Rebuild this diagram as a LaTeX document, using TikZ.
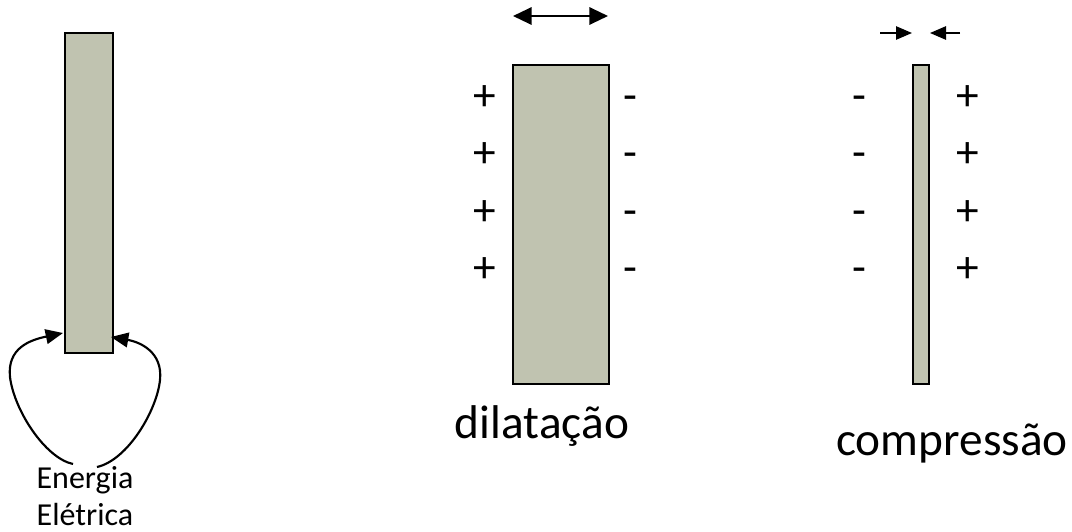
\documentclass[tikz,border=0pt]{standalone}
\usepackage{fontspec}
\setmainfont{Carlito}
\usetikzlibrary{arrows.meta}
\definecolor{barfill}{RGB}{192,195,176}

\begin{document}
\begin{tikzpicture} [x=0.75pt, y=-0.75pt, bar/.style={fill=barfill, draw, line width=1.5pt},
  sign/.style={font=\fontsize{34}{34}\selectfont, text height=0.65em, text depth=0pt},
  seta/.style={line width=1.6pt, -{Triangle[length=13pt, width=11pt]}}]
\useasboundingbox (0,0) rectangle (1072,532);
% the three bars
\filldraw[bar] (65,33) rectangle (113,353);
\filldraw[bar] (513,65) rectangle (609,384);
\filldraw[bar] (913,65) rectangle (929,384);
\coordinate (esq) at (63,333); \coordinate (dir) at (111,337);
% energia eletrica
\node[font=\fontsize{24}{28}\selectfont, anchor=base] (energia) at (85,488) {Energia};
\node[font=\fontsize{24}{28}\selectfont, anchor=base] (eletrica) at (85,525) {Elétrica};
\coordinate (pe) at (73,464); \coordinate (pd) at (97,467);
\draw[seta] (pe) .. controls (45,458) and (14,410) .. (10,377) .. controls (7,348) and (30,340) .. (esq);
\draw[seta] (pd) .. controls (128,460) and (157,410) .. (160,380) .. controls (163,352) and (140,342) .. (dir);
% signs
\foreach \y in {106,163,221,278} {
  \node[sign] at (485,\y) {+}; \node[sign] at (630,\y) {-};
  \node[sign] at (859,\y) {-}; \node[sign] at (968,\y) {+};
}
% arrows on top
\coordinate (a1) at (513,16); \coordinate (a2) at (608,16);
\draw[line width=1.6pt, {Triangle[length=14pt, width=13pt]}-{Triangle[length=14pt, width=13pt]}] (a1) -- (a2);
\coordinate (b1) at (880,33); \coordinate (b2) at (912,33);
\coordinate (c1) at (960,33); \coordinate (c2) at (930,33);
\draw[line width=1.2pt, -{Triangle[length=12pt, width=10pt]}] (b1) -- (b2);
\draw[line width=1.2pt, -{Triangle[length=12pt, width=10pt]}] (c1) -- (c2);
% labels
\node[font=\fontsize{35.5}{36}\selectfont, anchor=base] (dil) at (542,438) {dilatação};
\node[font=\fontsize{35.5}{36}\selectfont, anchor=base] (comp) at (952,455) {compressão};
\end{tikzpicture}
\end{document}
